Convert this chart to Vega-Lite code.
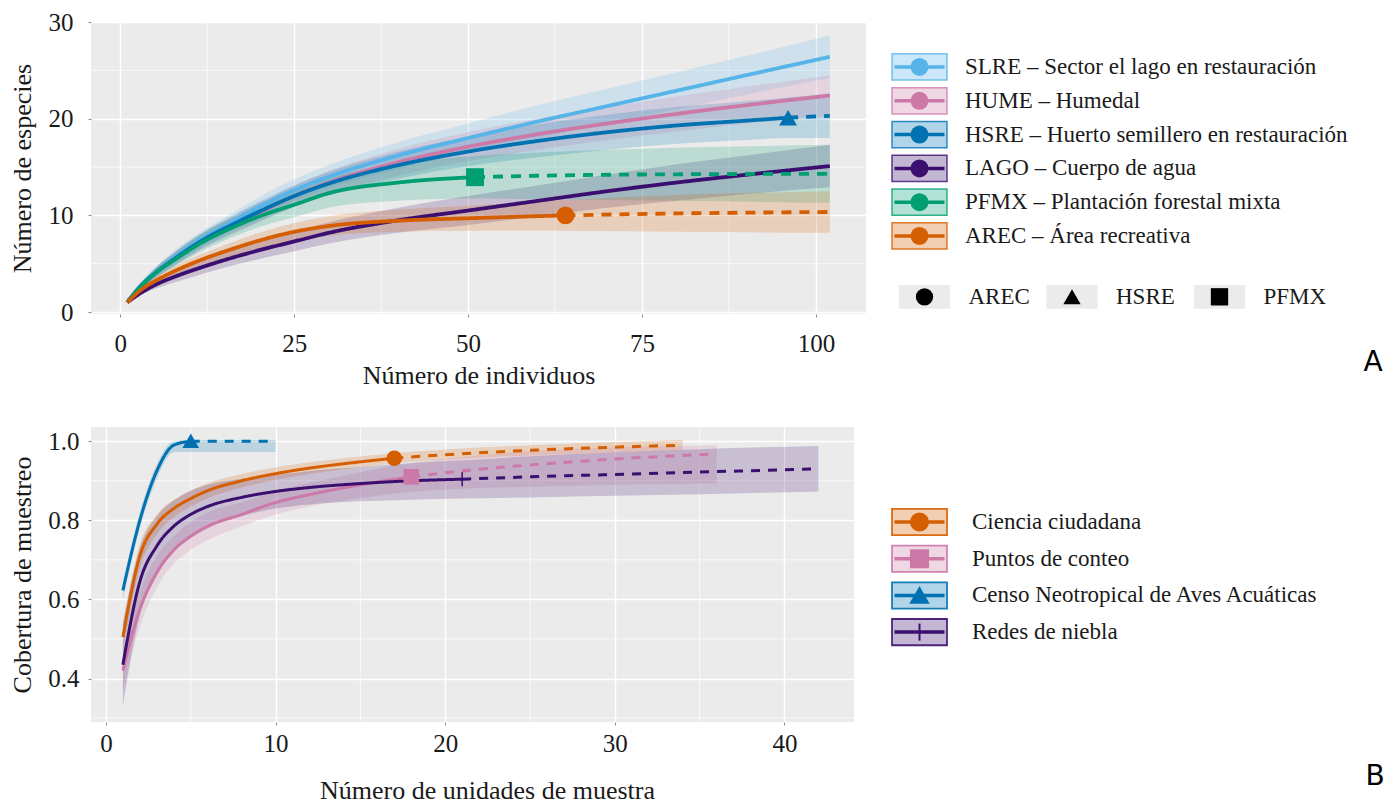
{
  "$schema": "https://vega.github.io/schema/vega-lite/v6.json",
  "background": "white",
  "padding": {"left": 8, "top": 10, "right": 0, "bottom": 0},
  "config": {
    "view": {"stroke": null},
    "font": "Liberation Serif",
    "axis": {
      "labelFont": "Liberation Serif", "titleFont": "Liberation Serif",
      "labelFontSize": 25, "titleFontSize": 26, "titleFontWeight": "normal",
      "labelColor": "#1a1a1a", "titleColor": "#1a1a1a",
      "domain": false, "grid": true, "gridColor": "#FFFFFF", "gridWidth": 1.4,
      "tickColor": "#8a8a8a", "tickSize": 3, "labelAngle": 0
    }
  },
  "datasets": {
    "minorAx": [{"x": 12.5}, {"x": 37.5}, {"x": 62.5}, {"x": 87.5}],
    "minorAy": [{"y": 5}, {"y": 15}, {"y": 25}],
    "minorBx": [{"x": 5}, {"x": 15}, {"x": 25}, {"x": 35}],
    "minorBy": [{"y": 0.3}, {"y": 0.5}, {"y": 0.7}, {"y": 0.9}],
    "A": [
      {"g":"SLRE","m":"int","x":1,"y":1,"lo":1,"hi":1},
      {"g":"SLRE","m":"int","x":3,"y":2.8,"lo":2.5,"hi":3.1},
      {"g":"SLRE","m":"int","x":5,"y":4.1,"lo":3.6,"hi":4.6},
      {"g":"SLRE","m":"int","x":8,"y":5.8,"lo":5.1,"hi":6.5},
      {"g":"SLRE","m":"int","x":12,"y":7.7,"lo":6.9,"hi":8.5},
      {"g":"SLRE","m":"int","x":16,"y":9.3,"lo":8.4,"hi":10.2},
      {"g":"SLRE","m":"int","x":20,"y":10.9,"lo":9.9,"hi":11.9},
      {"g":"SLRE","m":"int","x":25,"y":12.6,"lo":11.5,"hi":13.7},
      {"g":"SLRE","m":"int","x":30,"y":14.0,"lo":12.8,"hi":15.2},
      {"g":"SLRE","m":"int","x":40,"y":16.2,"lo":14.8,"hi":17.6},
      {"g":"SLRE","m":"int","x":50,"y":18.0,"lo":16.5,"hi":19.5},
      {"g":"SLRE","m":"int","x":60,"y":19.7,"lo":18.0,"hi":21.4},
      {"g":"SLRE","m":"int","x":70,"y":21.3,"lo":19.5,"hi":23.1},
      {"g":"SLRE","m":"int","x":80,"y":22.9,"lo":21.0,"hi":24.8},
      {"g":"SLRE","m":"int","x":90,"y":24.5,"lo":22.5,"hi":26.5},
      {"g":"SLRE","m":"int","x":102,"y":26.4,"lo":24.2,"hi":28.6},
      {"g":"HUME","m":"int","x":1,"y":1,"lo":1,"hi":1},
      {"g":"HUME","m":"int","x":3,"y":2.7,"lo":2.4,"hi":3.0},
      {"g":"HUME","m":"int","x":5,"y":4.0,"lo":3.5,"hi":4.5},
      {"g":"HUME","m":"int","x":8,"y":5.6,"lo":4.9,"hi":6.3},
      {"g":"HUME","m":"int","x":12,"y":7.4,"lo":6.6,"hi":8.2},
      {"g":"HUME","m":"int","x":16,"y":8.9,"lo":8.0,"hi":9.8},
      {"g":"HUME","m":"int","x":20,"y":10.3,"lo":9.3,"hi":11.3},
      {"g":"HUME","m":"int","x":25,"y":12.0,"lo":10.9,"hi":13.1},
      {"g":"HUME","m":"int","x":30,"y":13.4,"lo":12.2,"hi":14.6},
      {"g":"HUME","m":"int","x":40,"y":15.5,"lo":14.1,"hi":16.9},
      {"g":"HUME","m":"int","x":50,"y":17.1,"lo":15.6,"hi":18.6},
      {"g":"HUME","m":"int","x":60,"y":18.4,"lo":16.8,"hi":20.0},
      {"g":"HUME","m":"int","x":70,"y":19.5,"lo":17.8,"hi":21.2},
      {"g":"HUME","m":"int","x":80,"y":20.5,"lo":18.7,"hi":22.3},
      {"g":"HUME","m":"int","x":90,"y":21.4,"lo":19.5,"hi":23.3},
      {"g":"HUME","m":"int","x":102,"y":22.4,"lo":20.3,"hi":24.5},
      {"g":"HSRE","m":"int","x":1,"y":1,"lo":1,"hi":1},
      {"g":"HSRE","m":"int","x":3,"y":2.7,"lo":2.4,"hi":3.0},
      {"g":"HSRE","m":"int","x":5,"y":4.0,"lo":3.5,"hi":4.5},
      {"g":"HSRE","m":"int","x":8,"y":5.6,"lo":4.9,"hi":6.3},
      {"g":"HSRE","m":"int","x":12,"y":7.5,"lo":6.7,"hi":8.3},
      {"g":"HSRE","m":"int","x":16,"y":9.0,"lo":8.1,"hi":9.9},
      {"g":"HSRE","m":"int","x":20,"y":10.4,"lo":9.4,"hi":11.4},
      {"g":"HSRE","m":"int","x":25,"y":12.0,"lo":10.9,"hi":13.1},
      {"g":"HSRE","m":"int","x":30,"y":13.3,"lo":12.1,"hi":14.5},
      {"g":"HSRE","m":"int","x":40,"y":15.2,"lo":13.8,"hi":16.6},
      {"g":"HSRE","m":"int","x":50,"y":16.6,"lo":15.1,"hi":18.1},
      {"g":"HSRE","m":"int","x":60,"y":17.7,"lo":16.0,"hi":19.4},
      {"g":"HSRE","m":"int","x":70,"y":18.6,"lo":16.8,"hi":20.4},
      {"g":"HSRE","m":"int","x":80,"y":19.3,"lo":17.4,"hi":21.2},
      {"g":"HSRE","m":"int","x":90,"y":19.8,"lo":17.8,"hi":21.8},
      {"g":"HSRE","m":"int","x":96,"y":20.1,"lo":18.0,"hi":22.2},
      {"g":"HSRE","m":"ext","x":96,"y":20.1,"lo":18.0,"hi":22.2},
      {"g":"HSRE","m":"ext","x":102,"y":20.3,"lo":18.0,"hi":22.6},
      {"g":"LAGO","m":"int","x":1,"y":1,"lo":1,"hi":1},
      {"g":"LAGO","m":"int","x":3,"y":2.0,"lo":1.8,"hi":2.2},
      {"g":"LAGO","m":"int","x":5,"y":2.8,"lo":2.4,"hi":3.2},
      {"g":"LAGO","m":"int","x":8,"y":3.7,"lo":3.1,"hi":4.3},
      {"g":"LAGO","m":"int","x":12,"y":4.7,"lo":4.0,"hi":5.4},
      {"g":"LAGO","m":"int","x":16,"y":5.6,"lo":4.8,"hi":6.4},
      {"g":"LAGO","m":"int","x":20,"y":6.4,"lo":5.5,"hi":7.3},
      {"g":"LAGO","m":"int","x":25,"y":7.3,"lo":6.3,"hi":8.3},
      {"g":"LAGO","m":"int","x":30,"y":8.2,"lo":7.1,"hi":9.3},
      {"g":"LAGO","m":"int","x":40,"y":9.5,"lo":8.2,"hi":10.8},
      {"g":"LAGO","m":"int","x":50,"y":10.5,"lo":9.0,"hi":12.0},
      {"g":"LAGO","m":"int","x":60,"y":11.5,"lo":9.9,"hi":13.1},
      {"g":"LAGO","m":"int","x":70,"y":12.5,"lo":10.8,"hi":14.2},
      {"g":"LAGO","m":"int","x":80,"y":13.4,"lo":11.5,"hi":15.3},
      {"g":"LAGO","m":"int","x":90,"y":14.2,"lo":12.2,"hi":16.2},
      {"g":"LAGO","m":"int","x":102,"y":15.1,"lo":12.9,"hi":17.3},
      {"g":"PFMX","m":"int","x":1,"y":1,"lo":1,"hi":1},
      {"g":"PFMX","m":"int","x":3,"y":2.7,"lo":2.4,"hi":3.0},
      {"g":"PFMX","m":"int","x":5,"y":4.0,"lo":3.5,"hi":4.5},
      {"g":"PFMX","m":"int","x":8,"y":5.5,"lo":4.8,"hi":6.2},
      {"g":"PFMX","m":"int","x":12,"y":7.3,"lo":6.4,"hi":8.2},
      {"g":"PFMX","m":"int","x":16,"y":8.7,"lo":7.7,"hi":9.7},
      {"g":"PFMX","m":"int","x":20,"y":9.9,"lo":8.8,"hi":11.0},
      {"g":"PFMX","m":"int","x":25,"y":11.1,"lo":9.8,"hi":12.4},
      {"g":"PFMX","m":"int","x":30,"y":12.3,"lo":10.8,"hi":13.8},
      {"g":"PFMX","m":"int","x":40,"y":13.4,"lo":11.5,"hi":15.3},
      {"g":"PFMX","m":"int","x":51,"y":13.95,"lo":11.75,"hi":16.15},
      {"g":"PFMX","m":"ext","x":51,"y":13.95,"lo":11.75,"hi":16.15},
      {"g":"PFMX","m":"ext","x":60,"y":14.1,"lo":11.7,"hi":16.5},
      {"g":"PFMX","m":"ext","x":70,"y":14.2,"lo":11.6,"hi":16.8},
      {"g":"PFMX","m":"ext","x":80,"y":14.25,"lo":11.5,"hi":17.0},
      {"g":"PFMX","m":"ext","x":102,"y":14.3,"lo":11.3,"hi":17.3},
      {"g":"AREC","m":"int","x":1,"y":1,"lo":1,"hi":1},
      {"g":"AREC","m":"int","x":3,"y":2.3,"lo":2.1,"hi":2.5},
      {"g":"AREC","m":"int","x":5,"y":3.2,"lo":2.8,"hi":3.6},
      {"g":"AREC","m":"int","x":8,"y":4.3,"lo":3.8,"hi":4.8},
      {"g":"AREC","m":"int","x":12,"y":5.5,"lo":4.9,"hi":6.1},
      {"g":"AREC","m":"int","x":16,"y":6.5,"lo":5.8,"hi":7.2},
      {"g":"AREC","m":"int","x":20,"y":7.4,"lo":6.6,"hi":8.2},
      {"g":"AREC","m":"int","x":25,"y":8.3,"lo":7.4,"hi":9.2},
      {"g":"AREC","m":"int","x":30,"y":8.9,"lo":7.9,"hi":9.9},
      {"g":"AREC","m":"int","x":40,"y":9.45,"lo":8.3,"hi":10.6},
      {"g":"AREC","m":"int","x":50,"y":9.7,"lo":8.4,"hi":11.0},
      {"g":"AREC","m":"int","x":64,"y":10.0,"lo":8.4,"hi":11.6},
      {"g":"AREC","m":"ext","x":64,"y":10.0,"lo":8.4,"hi":11.6},
      {"g":"AREC","m":"ext","x":80,"y":10.2,"lo":8.3,"hi":12.1},
      {"g":"AREC","m":"ext","x":102,"y":10.35,"lo":8.2,"hi":12.5}
    ],
    "obsA": [
      {"g":"AREC","x":64,"y":10.0},
      {"g":"HSRE","x":96,"y":20.1},
      {"g":"PFMX","x":51,"y":13.95}
    ],
    "B": [
      {"g":"CC","m":"int","x":1,"y":0.505,"lo":0.47,"hi":0.54},
      {"g":"CC","m":"int","x":2,"y":0.71,"lo":0.68,"hi":0.74},
      {"g":"CC","m":"int","x":3,"y":0.79,"lo":0.765,"hi":0.815},
      {"g":"CC","m":"int","x":4,"y":0.83,"lo":0.808,"hi":0.852},
      {"g":"CC","m":"int","x":5,"y":0.855,"lo":0.835,"hi":0.875},
      {"g":"CC","m":"int","x":6,"y":0.875,"lo":0.856,"hi":0.894},
      {"g":"CC","m":"int","x":8,"y":0.9,"lo":0.883,"hi":0.917},
      {"g":"CC","m":"int","x":10,"y":0.918,"lo":0.902,"hi":0.934},
      {"g":"CC","m":"int","x":12,"y":0.932,"lo":0.917,"hi":0.947},
      {"g":"CC","m":"int","x":14,"y":0.943,"lo":0.929,"hi":0.957},
      {"g":"CC","m":"int","x":17,"y":0.957,"lo":0.944,"hi":0.97},
      {"g":"CC","m":"ext","x":17,"y":0.957,"lo":0.944,"hi":0.97},
      {"g":"CC","m":"ext","x":20,"y":0.966,"lo":0.953,"hi":0.979},
      {"g":"CC","m":"ext","x":25,"y":0.977,"lo":0.964,"hi":0.99},
      {"g":"CC","m":"ext","x":30,"y":0.985,"lo":0.972,"hi":0.998},
      {"g":"CC","m":"ext","x":34,"y":0.99,"lo":0.977,"hi":1.003},
      {"g":"PC","m":"int","x":1,"y":0.42,"lo":0.37,"hi":0.47},
      {"g":"PC","m":"int","x":2,"y":0.575,"lo":0.53,"hi":0.62},
      {"g":"PC","m":"int","x":3,"y":0.668,"lo":0.63,"hi":0.71},
      {"g":"PC","m":"int","x":4,"y":0.725,"lo":0.69,"hi":0.76},
      {"g":"PC","m":"int","x":5,"y":0.76,"lo":0.725,"hi":0.795},
      {"g":"PC","m":"int","x":6,"y":0.785,"lo":0.75,"hi":0.82},
      {"g":"PC","m":"int","x":8,"y":0.815,"lo":0.785,"hi":0.845},
      {"g":"PC","m":"int","x":10,"y":0.845,"lo":0.815,"hi":0.875},
      {"g":"PC","m":"int","x":12,"y":0.865,"lo":0.835,"hi":0.895},
      {"g":"PC","m":"int","x":14,"y":0.882,"lo":0.85,"hi":0.913},
      {"g":"PC","m":"int","x":16,"y":0.897,"lo":0.862,"hi":0.93},
      {"g":"PC","m":"int","x":18,"y":0.91,"lo":0.872,"hi":0.945},
      {"g":"PC","m":"ext","x":18,"y":0.91,"lo":0.872,"hi":0.945},
      {"g":"PC","m":"ext","x":21,"y":0.925,"lo":0.88,"hi":0.96},
      {"g":"PC","m":"ext","x":25,"y":0.94,"lo":0.885,"hi":0.975},
      {"g":"PC","m":"ext","x":30,"y":0.955,"lo":0.89,"hi":0.985},
      {"g":"PC","m":"ext","x":36,"y":0.968,"lo":0.893,"hi":0.99},
      {"g":"CN","m":"int","x":1,"y":0.623,"lo":0.6,"hi":0.645},
      {"g":"CN","m":"int","x":2,"y":0.8,"lo":0.78,"hi":0.82},
      {"g":"CN","m":"int","x":3,"y":0.925,"lo":0.905,"hi":0.942},
      {"g":"CN","m":"int","x":4,"y":0.99,"lo":0.972,"hi":1.0},
      {"g":"CN","m":"int","x":5,"y":1.0,"lo":0.973,"hi":1.003},
      {"g":"CN","m":"ext","x":5,"y":1.0,"lo":0.973,"hi":1.003},
      {"g":"CN","m":"ext","x":7,"y":1.0,"lo":0.973,"hi":1.003},
      {"g":"CN","m":"ext","x":10,"y":1.0,"lo":0.973,"hi":1.003},
      {"g":"RN","m":"int","x":1,"y":0.435,"lo":0.33,"hi":0.54},
      {"g":"RN","m":"int","x":2,"y":0.645,"lo":0.56,"hi":0.73},
      {"g":"RN","m":"int","x":3,"y":0.735,"lo":0.66,"hi":0.81},
      {"g":"RN","m":"int","x":4,"y":0.785,"lo":0.72,"hi":0.85},
      {"g":"RN","m":"int","x":5,"y":0.815,"lo":0.755,"hi":0.875},
      {"g":"RN","m":"int","x":6,"y":0.835,"lo":0.78,"hi":0.89},
      {"g":"RN","m":"int","x":8,"y":0.858,"lo":0.81,"hi":0.905},
      {"g":"RN","m":"int","x":10,"y":0.873,"lo":0.83,"hi":0.915},
      {"g":"RN","m":"int","x":12,"y":0.883,"lo":0.84,"hi":0.925},
      {"g":"RN","m":"int","x":15,"y":0.893,"lo":0.848,"hi":0.935},
      {"g":"RN","m":"int","x":18,"y":0.9,"lo":0.852,"hi":0.945},
      {"g":"RN","m":"int","x":21,"y":0.904,"lo":0.855,"hi":0.952},
      {"g":"RN","m":"ext","x":21,"y":0.904,"lo":0.855,"hi":0.952},
      {"g":"RN","m":"ext","x":25,"y":0.91,"lo":0.858,"hi":0.962},
      {"g":"RN","m":"ext","x":30,"y":0.916,"lo":0.862,"hi":0.972},
      {"g":"RN","m":"ext","x":35,"y":0.922,"lo":0.866,"hi":0.98},
      {"g":"RN","m":"ext","x":42,"y":0.93,"lo":0.873,"hi":0.988}
    ],
    "obsB": [
      {"g":"CC","x":17,"y":0.957},
      {"g":"PC","x":18,"y":0.91},
      {"g":"CN","x":5,"y":1.0},
      {"g":"RN","x":21,"y":0.904}
    ],
    "legA": [
      {"g":"SLRE","label":"SLRE – Sector el lago en restauración","row":0},
      {"g":"HUME","label":"HUME – Humedal","row":1},
      {"g":"HSRE","label":"HSRE – Huerto semillero en restauración","row":2},
      {"g":"LAGO","label":"LAGO – Cuerpo de agua","row":3},
      {"g":"PFMX","label":"PFMX – Plantación forestal mixta","row":4},
      {"g":"AREC","label":"AREC – Área recreativa","row":5}
    ],
    "shpA": [{"g":"AREC"}, {"g":"HSRE"}, {"g":"PFMX"}],
    "legB": [
      {"g":"CC","label":"Ciencia ciudadana","row":0},
      {"g":"PC","label":"Puntos de conteo","row":1},
      {"g":"CN","label":"Censo Neotropical de Aves Acuáticas","row":2},
      {"g":"RN","label":"Redes de niebla","row":3}
    ]
  },
  "spacing": 38,
  "resolve": {"scale": {"x": "independent", "y": "independent", "color": "independent", "fill": "independent", "stroke": "independent", "shape": "independent", "size": "independent", "strokeDash": "independent"}},
  "vconcat": [
    {
      "spacing": 20,
      "resolve": {"scale": {"x": "independent", "y": "independent", "color": "independent", "fill": "independent", "stroke": "independent", "shape": "independent", "size": "independent", "strokeDash": "independent"}},
      "hconcat": [
        {
          "width": 775, "height": 292,
          "view": {"fill": "#EBEBEB", "stroke": null},
          "layer": [
            {"data": {"name": "minorAx"}, "mark": {"type": "rule", "color": "#FFFFFF", "strokeWidth": 0.7},
             "encoding": {"x": {"field": "x", "type": "quantitative", "scale": {"domain": [-4.2, 107.2], "nice": false, "zero": false},
                     "axis": {"title": "Número de individuos", "values": [0, 25, 50, 75, 100], "labelPadding": 14, "titlePadding": 6}}}},
            {"data": {"name": "minorAy"}, "mark": {"type": "rule", "color": "#FFFFFF", "strokeWidth": 0.7},
             "encoding": {"y": {"field": "y", "type": "quantitative", "scale": {"domain": [-0.2, 30], "nice": false, "zero": false},
                     "axis": {"title": "Número de especies", "values": [0, 10, 20, 30], "labelPadding": 15, "minExtent": 50, "maxExtent": 50, "titlePadding": 6}}}},
            {"data": {"name": "A"}, "mark": {"type": "area", "opacity": 0.2, "interpolate": "monotone"},
             "encoding": {
               "x": {"field": "x", "type": "quantitative", "scale": {"domain": [-4.2, 107.2], "nice": false, "zero": false},
                     "axis": {"title": "Número de individuos", "values": [0, 25, 50, 75, 100], "labelPadding": 14, "titlePadding": 6}},
               "y": {"field": "lo", "type": "quantitative", "scale": {"domain": [-0.2, 30], "nice": false, "zero": false},
                     "axis": {"title": "Número de especies", "values": [0, 10, 20, 30], "labelPadding": 15, "minExtent": 50, "maxExtent": 50, "titlePadding": 6}},
               "y2": {"field": "hi"},
               "color": {"field": "g", "type": "nominal", "scale": {"domain": ["SLRE","HUME","HSRE","LAGO","PFMX","AREC"], "range": ["#56B4E9","#CC79A7","#0072B2","#3B0F6F","#009E73","#D55E00"]}, "legend": null},
               "detail": {"field": "g"}
             }},
            {"data": {"name": "A"}, "mark": {"type": "line", "strokeWidth": 3.8, "interpolate": "monotone"},
             "encoding": {
               "x": {"field": "x", "type": "quantitative", "scale": {"domain": [-4.2, 107.2], "nice": false, "zero": false},
                     "axis": {"title": "Número de individuos", "values": [0, 25, 50, 75, 100], "labelPadding": 14, "titlePadding": 6}},
               "y": {"field": "y", "type": "quantitative", "scale": {"domain": [-0.2, 30], "nice": false, "zero": false},
                     "axis": {"title": "Número de especies", "values": [0, 10, 20, 30], "labelPadding": 15, "minExtent": 50, "maxExtent": 50, "titlePadding": 6}},
               "color": {"field": "g", "type": "nominal", "scale": {"domain": ["SLRE","HUME","HSRE","LAGO","PFMX","AREC"], "range": ["#56B4E9","#CC79A7","#0072B2","#3B0F6F","#009E73","#D55E00"]}, "legend": null},
               "strokeDash": {"field": "m", "type": "nominal", "scale": {"domain": ["int", "ext"], "range": [[1, 0], [10, 8]]}, "legend": null},
               "detail": {"field": "g"}
             }},
            {"data": {"name": "obsA"}, "mark": {"type": "point", "filled": true, "opacity": 1, "size": 320},
             "encoding": {
               "x": {"field": "x", "type": "quantitative", "scale": {"domain": [-4.2, 107.2], "nice": false, "zero": false},
                     "axis": {"title": "Número de individuos", "values": [0, 25, 50, 75, 100], "labelPadding": 14, "titlePadding": 6}},
               "y": {"field": "y", "type": "quantitative", "scale": {"domain": [-0.2, 30], "nice": false, "zero": false},
                     "axis": {"title": "Número de especies", "values": [0, 10, 20, 30], "labelPadding": 15, "minExtent": 50, "maxExtent": 50, "titlePadding": 6}},
               "color": {"field": "g", "type": "nominal", "scale": {"domain": ["SLRE","HUME","HSRE","LAGO","PFMX","AREC"], "range": ["#56B4E9","#CC79A7","#0072B2","#3B0F6F","#009E73","#D55E00"]}, "legend": null},
               "shape": {"field": "g", "type": "nominal", "scale": {"domain": ["AREC","HSRE","PFMX"], "range": ["circle","triangle-up","square"]}, "legend": null}
             }}
          ]
        },
        {
          "width": 500, "height": 360,
          "resolve": {"scale": {"x": "independent"}},
          "layer": [
            {"data": {"name": "legA"}, "mark": {"type": "point", "shape": "M-2.2,-1.05H2.2V1.05H-2.2Z", "size": 625, "filled": true, "fillOpacity": 0.3, "strokeWidth": 1.5, "strokeOpacity": 0.8},
             "encoding": {
               "x": {"datum": 3.25, "type": "quantitative", "scale": {"domain": [0, 50], "nice": false, "zero": false}, "axis": null},
               "y": {"field": "row", "type": "quantitative", "scale": {"domain": [-1.331, 9.32], "reverse": true, "nice": false, "zero": false}, "axis": null},
               "fill": {"field": "g", "type": "nominal", "scale": {"domain": ["SLRE","HUME","HSRE","LAGO","PFMX","AREC"], "range": ["#56B4E9","#CC79A7","#0072B2","#3B0F6F","#009E73","#D55E00"]}, "legend": null},
               "stroke": {"field": "g", "type": "nominal", "scale": {"domain": ["SLRE","HUME","HSRE","LAGO","PFMX","AREC"], "range": ["#56B4E9","#CC79A7","#0072B2","#3B0F6F","#009E73","#D55E00"]}, "legend": null}
             }},
            {"data": {"name": "legA"}, "mark": {"type": "point", "shape": "M-2,0H2", "size": 625, "filled": false, "strokeWidth": 3.5, "opacity": 1},
             "encoding": {
               "x": {"datum": 3.25, "type": "quantitative", "scale": {"domain": [0, 50], "nice": false, "zero": false}, "axis": null},
               "y": {"field": "row", "type": "quantitative", "scale": {"domain": [-1.331, 9.32], "reverse": true, "nice": false, "zero": false}, "axis": null},
               "color": {"field": "g", "type": "nominal", "scale": {"domain": ["SLRE","HUME","HSRE","LAGO","PFMX","AREC"], "range": ["#56B4E9","#CC79A7","#0072B2","#3B0F6F","#009E73","#D55E00"]}, "legend": null}
             }},
            {"data": {"name": "legA"}, "mark": {"type": "point", "shape": "circle", "size": 324, "filled": true, "opacity": 1},
             "encoding": {
               "x": {"datum": 3.25, "type": "quantitative", "scale": {"domain": [0, 50], "nice": false, "zero": false}, "axis": null},
               "y": {"field": "row", "type": "quantitative", "scale": {"domain": [-1.331, 9.32], "reverse": true, "nice": false, "zero": false}, "axis": null},
               "color": {"field": "g", "type": "nominal", "scale": {"domain": ["SLRE","HUME","HSRE","LAGO","PFMX","AREC"], "range": ["#56B4E9","#CC79A7","#0072B2","#3B0F6F","#009E73","#D55E00"]}, "legend": null}
             }},
            {"data": {"name": "legA"}, "mark": {"type": "text", "align": "left", "baseline": "middle", "fontSize": 23, "font": "Liberation Serif", "color": "#1a1a1a"},
             "encoding": {
               "x": {"datum": 7.8, "type": "quantitative", "scale": {"domain": [0, 50], "nice": false, "zero": false}, "axis": null},
               "y": {"field": "row", "type": "quantitative", "scale": {"domain": [-1.331, 9.32], "reverse": true, "nice": false, "zero": false}, "axis": null},
               "text": {"field": "label"}
             }},
            {"data": {"name": "shpA"}, "mark": {"type": "point", "shape": "M-2.05,-0.95H2.05V0.95H-2.05Z", "size": 625, "filled": true, "color": "#EBEBEB", "opacity": 1},
             "encoding": {
               "x": {"field": "g", "type": "nominal", "scale": {"type": "point", "domain": ["AREC","HSRE","PFMX"], "range": [37.5, 332.5], "padding": 0}, "axis": null},
               "y": {"datum": 6.8, "type": "quantitative", "scale": {"domain": [-1.331, 9.32], "reverse": true, "nice": false, "zero": false}, "axis": null}
             }},
            {"data": {"name": "shpA"}, "mark": {"type": "point", "filled": true, "color": "#000000", "opacity": 1, "size": 300},
             "encoding": {
               "x": {"field": "g", "type": "nominal", "scale": {"type": "point", "domain": ["AREC","HSRE","PFMX"], "range": [37.5, 332.5], "padding": 0}, "axis": null},
               "y": {"datum": 6.8, "type": "quantitative", "scale": {"domain": [-1.331, 9.32], "reverse": true, "nice": false, "zero": false}, "axis": null},
               "shape": {"field": "g", "type": "nominal", "scale": {"domain": ["AREC","HSRE","PFMX"], "range": ["circle","triangle-up","square"]}, "legend": null}
             }},
            {"data": {"name": "shpA"}, "mark": {"type": "text", "align": "left", "baseline": "middle", "fontSize": 23, "font": "Liberation Serif", "color": "#1a1a1a", "dx": 44},
             "encoding": {
               "x": {"field": "g", "type": "nominal", "scale": {"type": "point", "domain": ["AREC","HSRE","PFMX"], "range": [37.5, 332.5], "padding": 0}, "axis": null},
               "y": {"datum": 6.8, "type": "quantitative", "scale": {"domain": [-1.331, 9.32], "reverse": true, "nice": false, "zero": false}, "axis": null},
               "text": {"field": "g"}
             }},
            {"data": {"values": [{"t": "A"}]}, "mark": {"type": "text", "align": "center", "baseline": "middle", "fontSize": 28, "font": "DejaVu Sans", "color": "#000000"},
             "encoding": {
               "x": {"datum": 48.6, "type": "quantitative", "scale": {"domain": [0, 50], "nice": false, "zero": false}, "axis": null},
               "y": {"datum": 8.76, "type": "quantitative", "scale": {"domain": [-1.331, 9.32], "reverse": true, "nice": false, "zero": false}, "axis": null},
               "text": {"field": "t"}
             }}
          ]
        }
      ]
    },
    {
      "spacing": 32,
      "resolve": {"scale": {"x": "independent", "y": "independent", "color": "independent", "fill": "independent", "stroke": "independent", "shape": "independent", "size": "independent", "strokeDash": "independent"}},
      "hconcat": [
        {
          "width": 763, "height": 295,
          "view": {"fill": "#EBEBEB", "stroke": null},
          "layer": [
            {"data": {"name": "minorBx"}, "mark": {"type": "rule", "color": "#FFFFFF", "strokeWidth": 0.7},
             "encoding": {"x": {"field": "x", "type": "quantitative", "scale": {"domain": [-0.88, 44.1], "nice": false, "zero": false},
                     "axis": {"title": "Número de unidades de muestra", "values": [0, 10, 20, 30, 40], "labelPadding": 6, "titlePadding": 21, "titleX": 396}}}},
            {"data": {"name": "minorBy"}, "mark": {"type": "rule", "color": "#FFFFFF", "strokeWidth": 0.7},
             "encoding": {"y": {"field": "y", "type": "quantitative", "scale": {"domain": [0.29, 1.036], "nice": false, "zero": false},
                     "axis": {"title": "Cobertura de muestreo", "values": [0.4, 0.6, 0.8, 1.0], "format": ".1f", "labelPadding": 9, "minExtent": 50, "maxExtent": 50, "titlePadding": 6}}}},
            {"data": {"name": "B"}, "mark": {"type": "area", "opacity": 0.2, "interpolate": "monotone"},
             "encoding": {
               "x": {"field": "x", "type": "quantitative", "scale": {"domain": [-0.88, 44.1], "nice": false, "zero": false},
                     "axis": {"title": "Número de unidades de muestra", "values": [0, 10, 20, 30, 40], "labelPadding": 6, "titlePadding": 21, "titleX": 396}},
               "y": {"field": "lo", "type": "quantitative", "scale": {"domain": [0.29, 1.036], "nice": false, "zero": false},
                     "axis": {"title": "Cobertura de muestreo", "values": [0.4, 0.6, 0.8, 1.0], "format": ".1f", "labelPadding": 9, "minExtent": 50, "maxExtent": 50, "titlePadding": 6}},
               "y2": {"field": "hi"},
               "color": {"field": "g", "type": "nominal", "scale": {"domain": ["CC","PC","CN","RN"], "range": ["#D55E00","#CC79A7","#0072B2","#3B0F6F"]}, "legend": null},
               "detail": {"field": "g"}
             }},
            {"data": {"name": "B"}, "mark": {"type": "line", "strokeWidth": 3, "interpolate": "monotone"},
             "encoding": {
               "x": {"field": "x", "type": "quantitative", "scale": {"domain": [-0.88, 44.1], "nice": false, "zero": false},
                     "axis": {"title": "Número de unidades de muestra", "values": [0, 10, 20, 30, 40], "labelPadding": 6, "titlePadding": 21, "titleX": 396}},
               "y": {"field": "y", "type": "quantitative", "scale": {"domain": [0.29, 1.036], "nice": false, "zero": false},
                     "axis": {"title": "Cobertura de muestreo", "values": [0.4, 0.6, 0.8, 1.0], "format": ".1f", "labelPadding": 9, "minExtent": 50, "maxExtent": 50, "titlePadding": 6}},
               "color": {"field": "g", "type": "nominal", "scale": {"domain": ["CC","PC","CN","RN"], "range": ["#D55E00","#CC79A7","#0072B2","#3B0F6F"]}, "legend": null},
               "strokeDash": {"field": "m", "type": "nominal", "scale": {"domain": ["int", "ext"], "range": [[1, 0], [9, 8]]}, "legend": null},
               "detail": {"field": "g"}
             }},
            {"data": {"name": "obsB"}, "mark": {"type": "point", "filled": true, "opacity": 1, "strokeWidth": 1.5},
             "encoding": {
               "x": {"field": "x", "type": "quantitative", "scale": {"domain": [-0.88, 44.1], "nice": false, "zero": false},
                     "axis": {"title": "Número de unidades de muestra", "values": [0, 10, 20, 30, 40], "labelPadding": 6, "titlePadding": 21, "titleX": 396}},
               "y": {"field": "y", "type": "quantitative", "scale": {"domain": [0.29, 1.036], "nice": false, "zero": false},
                     "axis": {"title": "Cobertura de muestreo", "values": [0.4, 0.6, 0.8, 1.0], "format": ".1f", "labelPadding": 9, "minExtent": 50, "maxExtent": 50, "titlePadding": 6}},
               "color": {"field": "g", "type": "nominal", "scale": {"domain": ["CC","PC","CN","RN"], "range": ["#D55E00","#CC79A7","#0072B2","#3B0F6F"]}, "legend": null},
               "stroke": {"field": "g", "type": "nominal", "scale": {"domain": ["CC","PC","CN","RN"], "range": ["#D55E00","#CC79A7","#0072B2","#3B0F6F"]}, "legend": null},
               "shape": {"field": "g", "type": "nominal", "scale": {"domain": ["CC","PC","CN","RN"], "range": ["circle","square","triangle-up","M0,-1V1"]}, "legend": null},
               "size": {"field": "g", "type": "nominal", "scale": {"domain": ["CC","PC","CN","RN"], "range": [200, 200, 280, 400]}, "legend": null}
             }}
          ]
        },
        {
          "width": 500, "height": 370,
          "layer": [
            {"data": {"name": "legB"}, "mark": {"type": "point", "shape": "M-2.2,-1.05H2.2V1.05H-2.2Z", "size": 625, "filled": true, "fillOpacity": 0.3, "strokeWidth": 1.8, "strokeOpacity": 0.9},
             "encoding": {
               "x": {"datum": 3.05, "type": "quantitative", "scale": {"domain": [0, 50], "nice": false, "zero": false}, "axis": null},
               "y": {"field": "row", "type": "quantitative", "scale": {"domain": [-2.589, 7.493], "reverse": true, "nice": false, "zero": false}, "axis": null},
               "fill": {"field": "g", "type": "nominal", "scale": {"domain": ["CC","PC","CN","RN"], "range": ["#D55E00","#CC79A7","#0072B2","#3B0F6F"]}, "legend": null},
               "stroke": {"field": "g", "type": "nominal", "scale": {"domain": ["CC","PC","CN","RN"], "range": ["#D55E00","#CC79A7","#0072B2","#3B0F6F"]}, "legend": null}
             }},
            {"data": {"name": "legB"}, "mark": {"type": "point", "shape": "M-2,0H2", "size": 625, "filled": false, "strokeWidth": 3.5, "opacity": 1},
             "encoding": {
               "x": {"datum": 3.05, "type": "quantitative", "scale": {"domain": [0, 50], "nice": false, "zero": false}, "axis": null},
               "y": {"field": "row", "type": "quantitative", "scale": {"domain": [-2.589, 7.493], "reverse": true, "nice": false, "zero": false}, "axis": null},
               "color": {"field": "g", "type": "nominal", "scale": {"domain": ["CC","PC","CN","RN"], "range": ["#D55E00","#CC79A7","#0072B2","#3B0F6F"]}, "legend": null}
             }},
            {"data": {"name": "legB"}, "mark": {"type": "point", "filled": true, "opacity": 1, "strokeWidth": 2},
             "encoding": {
               "x": {"datum": 3.05, "type": "quantitative", "scale": {"domain": [0, 50], "nice": false, "zero": false}, "axis": null},
               "y": {"field": "row", "type": "quantitative", "scale": {"domain": [-2.589, 7.493], "reverse": true, "nice": false, "zero": false}, "axis": null},
               "color": {"field": "g", "type": "nominal", "scale": {"domain": ["CC","PC","CN","RN"], "range": ["#D55E00","#CC79A7","#0072B2","#3B0F6F"]}, "legend": null},
               "stroke": {"field": "g", "type": "nominal", "scale": {"domain": ["CC","PC","CN","RN"], "range": ["#D55E00","#CC79A7","#0072B2","#3B0F6F"]}, "legend": null},
               "shape": {"field": "g", "type": "nominal", "scale": {"domain": ["CC","PC","CN","RN"], "range": ["circle","square","triangle-up","M0,-1V1"]}, "legend": null},
               "size": {"field": "g", "type": "nominal", "scale": {"domain": ["CC","PC","CN","RN"], "range": [290, 290, 420, 729]}, "legend": null}
             }},
            {"data": {"name": "legB"}, "mark": {"type": "text", "align": "left", "baseline": "middle", "fontSize": 23, "font": "Liberation Serif", "color": "#1a1a1a"},
             "encoding": {
               "x": {"datum": 8.3, "type": "quantitative", "scale": {"domain": [0, 50], "nice": false, "zero": false}, "axis": null},
               "y": {"field": "row", "type": "quantitative", "scale": {"domain": [-2.589, 7.493], "reverse": true, "nice": false, "zero": false}, "axis": null},
               "text": {"field": "label"}
             }},
            {"data": {"values": [{"t": "B"}]}, "mark": {"type": "text", "align": "center", "baseline": "middle", "fontSize": 28, "font": "DejaVu Sans", "color": "#000000"},
             "encoding": {
               "x": {"datum": 48.6, "type": "quantitative", "scale": {"domain": [0, 50], "nice": false, "zero": false}, "axis": null},
               "y": {"datum": 6.95, "type": "quantitative", "scale": {"domain": [-2.589, 7.493], "reverse": true, "nice": false, "zero": false}, "axis": null},
               "text": {"field": "t"}
             }}
          ]
        }
      ]
    }
  ]
}
